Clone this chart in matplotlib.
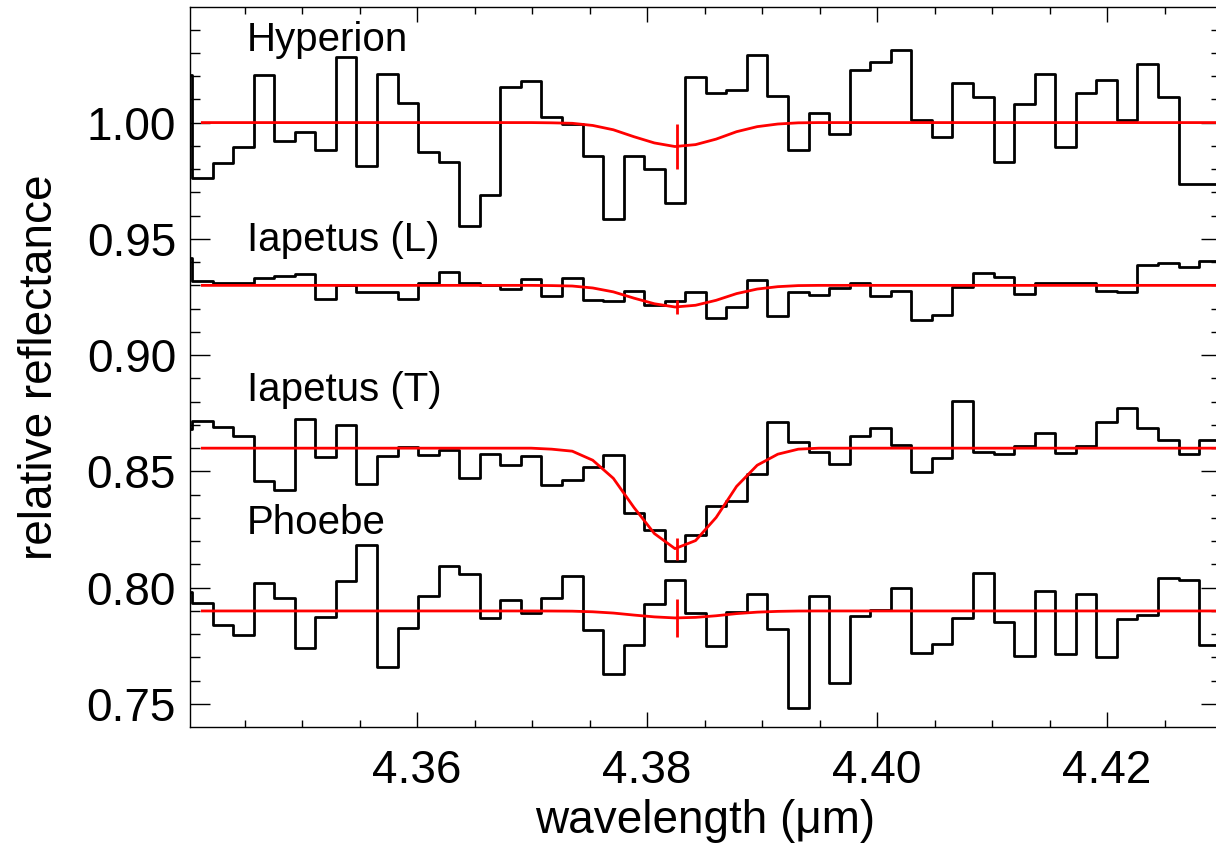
import numpy as np
import matplotlib
matplotlib.use("Agg")
import matplotlib.pyplot as plt
from matplotlib.ticker import MultipleLocator, FormatStrFormatter

plt.rcParams['font.family'] = ['Liberation Sans', 'DejaVu Sans']

# wavelength grid (bin centres, um); first/last bins are only partly inside the frame
wavelength = [4.33954, 4.34133, 4.34312, 4.34490, 4.34669, 4.34848, 4.35026, 4.35205,
              4.35384, 4.35563, 4.35741, 4.35920, 4.36099, 4.36277, 4.36456, 4.36635,
              4.36814, 4.36992, 4.37171, 4.37350, 4.37528, 4.37707, 4.37886, 4.38064,
              4.38243, 4.38422, 4.38601, 4.38779, 4.38958, 4.39137, 4.39315, 4.39494,
              4.39673, 4.39852, 4.40030, 4.40209, 4.40388, 4.40566, 4.40745, 4.40924,
              4.41102, 4.41281, 4.41460, 4.41639, 4.41817, 4.41996, 4.42175, 4.42353,
              4.42532, 4.42711, 4.42889, 4.43068]

hyperion = [1.0203, 0.9763, 0.9828, 0.9897, 1.0203, 0.9922, 0.9961, 0.9884, 1.0280,
            0.9815, 1.0211, 1.0086, 0.9875, 0.9832, 0.9556, 0.9690, 1.0151, 1.0177,
            1.0026, 0.9996, 0.9858, 0.9586, 0.9858, 0.9802, 0.9655, 1.0194, 1.0129,
            1.0142, 1.0289, 1.0116, 0.9884, 1.0043, 0.9953, 1.0224, 1.0259, 1.0310,
            1.0009, 0.9940, 1.0172, 1.0108, 0.9832, 1.0082, 1.0211, 0.9897, 1.0129,
            1.0185, 1.0009, 1.0254, 1.0108, 0.9737, 0.9737, 0.9737]

iapetus_l = [0.9418, 0.9319, 0.9310, 0.9310, 0.9332, 0.9340, 0.9349, 0.9241, 0.9302,
             0.9272, 0.9272, 0.9241, 0.9310, 0.9358, 0.9310, 0.9302, 0.9284, 0.9328,
             0.9254, 0.9332, 0.9237, 0.9233, 0.9276, 0.9216, 0.9233, 0.9272, 0.9159,
             0.9207, 0.9323, 0.9168, 0.9272, 0.9259, 0.9289, 0.9310, 0.9254, 0.9276,
             0.9151, 0.9172, 0.9293, 0.9353, 0.9336, 0.9263, 0.9310, 0.9310, 0.9310,
             0.9276, 0.9272, 0.9388, 0.9397, 0.9379, 0.9405, 0.9405]

iapetus_t = [0.8681, 0.8716, 0.8690, 0.8651, 0.8457, 0.8422, 0.8724, 0.8560, 0.8698,
             0.8448, 0.8565, 0.8603, 0.8569, 0.8591, 0.8470, 0.8573, 0.8526, 0.8565,
             0.8440, 0.8461, 0.8517, 0.8569, 0.8323, 0.8246, 0.8116, 0.8228, 0.8353,
             0.8371, 0.8491, 0.8711, 0.8625, 0.8582, 0.8530, 0.8651, 0.8685, 0.8612,
             0.8496, 0.8556, 0.8802, 0.8582, 0.8573, 0.8608, 0.8664, 0.8578, 0.8608,
             0.8711, 0.8772, 0.8685, 0.8634, 0.8573, 0.8634, 0.8634]

phoebe = [0.7983, 0.7935, 0.7840, 0.7797, 0.8022, 0.7957, 0.7741, 0.7875, 0.8030,
          0.8185, 0.7659, 0.7828, 0.7966, 0.8095, 0.8060, 0.7871, 0.7948, 0.7892,
          0.7957, 0.8052, 0.7819, 0.7629, 0.7754, 0.7931, 0.8034, 0.7892, 0.7750,
          0.7897, 0.7974, 0.7823, 0.7483, 0.7966, 0.7591, 0.7879, 0.7905, 0.8000,
          0.7720, 0.7759, 0.7871, 0.8065, 0.7853, 0.7707, 0.7987, 0.7716, 0.7974,
          0.7703, 0.7866, 0.7884, 0.8043, 0.8034, 0.7754, 0.7754]

# normalised band shape of the fitted model, read at the bin centres
band_shape = [np.nan] + [0.0] * 17 + [0.01, 0.03, 0.12, 0.30, 0.59, 0.85, 1.00,
                                      0.92, 0.69, 0.38, 0.17, 0.06, 0.01] + [0.0] * 21

names = ['Hyperion', 'Iapetus (L)', 'Iapetus (T)', 'Phoebe']
spectra = [hyperion, iapetus_l, iapetus_t, phoebe]
continuum = [1.00, 0.93, 0.86, 0.79]
band_depth = [0.0103, 0.0093, 0.0432, 0.0030]
depth_err = [0.0095, 0.0030, 0.0047, 0.0082]
band_centre = 4.3826
label_y = [1.0306, 0.9448, 0.8802, 0.8233]
label_x = 4.3452

fig = plt.figure(figsize=(12.16, 8.5), dpi=100)
ax = fig.add_axes([190 / 1216, 123 / 850, 1031 / 1216, 720 / 850])

wl = np.array(wavelength)
shape = np.array(band_shape)
for name, spec, c, d, e, ly in zip(names, spectra, continuum, band_depth, depth_err, label_y):
    ax.step(wl, spec, where='mid', color='black', lw=2.0)
    ax.plot(wl, c - d * shape, color='red', lw=2.0)
    ax.errorbar([band_centre], [c - d], yerr=[e], fmt='none', ecolor='red',
                elinewidth=2.0, capsize=0)
    ax.text(label_x, ly, name, fontsize=29, va='baseline', ha='left')

ax.set_xlim(4.34026, 4.42991)
ax.set_ylim(0.7401, 1.0497)

ax.xaxis.set_major_locator(MultipleLocator(0.02))
ax.xaxis.set_minor_locator(MultipleLocator(0.005))
ax.yaxis.set_major_locator(MultipleLocator(0.05))
ax.yaxis.set_minor_locator(MultipleLocator(0.01))
ax.xaxis.set_major_formatter(FormatStrFormatter('%.2f'))
ax.yaxis.set_major_formatter(FormatStrFormatter('%.2f'))

ax.tick_params(axis='x', which='major', direction='in', top=True, bottom=True,
               length=10.5, width=1, labelsize=33, pad=16)
ax.tick_params(axis='x', which='minor', direction='in', top=True, bottom=True,
               length=5.2, width=1)
ax.tick_params(axis='y', which='major', direction='in', left=True, right=True,
               length=14.4, width=1, labelsize=33, pad=10)
ax.tick_params(axis='y', which='minor', direction='in', left=True, right=True,
               length=7.2, width=1)
for sp in ax.spines.values():
    sp.set_linewidth(1.0)

ax.set_xlabel('wavelength (μm)', fontsize=33, labelpad=4)
ax.set_ylabel('relative reflectance', fontsize=33, labelpad=18)

fig.savefig('out.png', dpi=100)
